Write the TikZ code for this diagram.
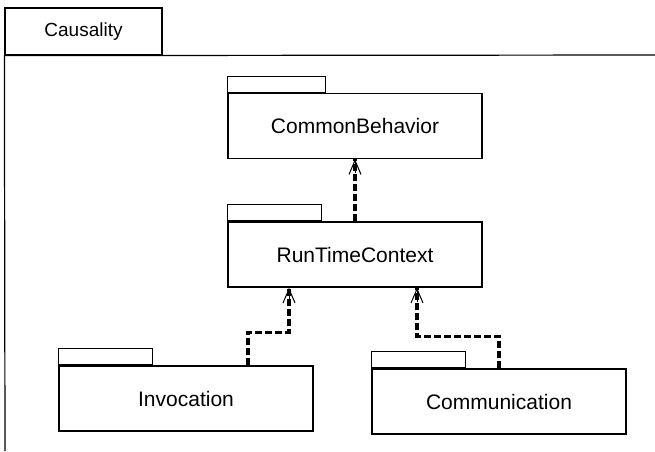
\documentclass[tikz,border=0pt]{standalone}
\usepackage{fontspec}
\setmainfont{Liberation Sans}
\usetikzlibrary{arrows.meta}
\tikzstyle{frametab} = [rectangle, draw=black, line width=1.2pt, minimum width=157pt, minimum height=47pt, inner sep=0pt, font=\fontsize{19}{22}\selectfont]
\tikzstyle{package} = [rectangle, text centered, draw=black, line width=1.3pt, fill=white, minimum width=254pt, minimum height=65pt, inner sep=0pt, font=\fontsize{21}{25}\selectfont]
\tikzstyle{pkgtab} = [rectangle, draw=black, line width=1.1pt, minimum height=16pt, inner sep=0pt, anchor=south west]
\tikzstyle{usage} = [line width=3.2pt, dash pattern=on 7pt off 3pt]
\tikzstyle{vtip} = [line width=1pt, -{Straight Barb[length=14pt, width=12pt, line width=1pt]}]

\begin{document}
\begin{tikzpicture}[x=1pt, y=-1pt, node distance=128.5pt]
\useasboundingbox (0,0) rectangle (655,451);

% outer frame
\node (causality) [frametab] at (83.5,31.5) {Causality};
\draw [line width=1.2pt] (655,55) -- (causality.south west) -- (5,451);

% packages
\node (cb) [package] at (355,126) {CommonBehavior};
\node (rtc) [package, below of=cb] {RunTimeContext};
\node (inv) [package, below of=rtc, xshift=-169pt, yshift=-15.5pt] {Invocation};
\node (comm) [package, below of=rtc, xshift=144pt, yshift=-18.5pt] {Communication};

\node (cbtab) [pkgtab, minimum width=98pt] at (cb.north west) {};
\node (rtctab) [pkgtab, minimum width=94pt] at (rtc.north west) {};
\node (invtab) [pkgtab, minimum width=94pt] at (inv.north west) {};
\node (commtab) [pkgtab, minimum width=94pt] at (comm.north west) {};

\coordinate (invout) at ([xshift=62pt]inv.north);
\coordinate (rtcin1) at ([xshift=-66pt]rtc.south);
\coordinate (rtcin2) at ([xshift=62pt]rtc.south);

% dependencies
\draw [usage] (rtc.north) -- (cb.south);
\draw [usage] (invout) -- ++(0,-33) -| (rtcin1);
\draw [usage] (comm.north) -- ++(0,-32) -| (rtcin2);

\draw [vtip] ([yshift=-14pt]cb.south) -- (cb.south);
\draw [vtip] ([yshift=-14pt]rtcin1) -- (rtcin1);
\draw [vtip] ([yshift=-14pt]rtcin2) -- (rtcin2);

\end{tikzpicture}
\end{document}
